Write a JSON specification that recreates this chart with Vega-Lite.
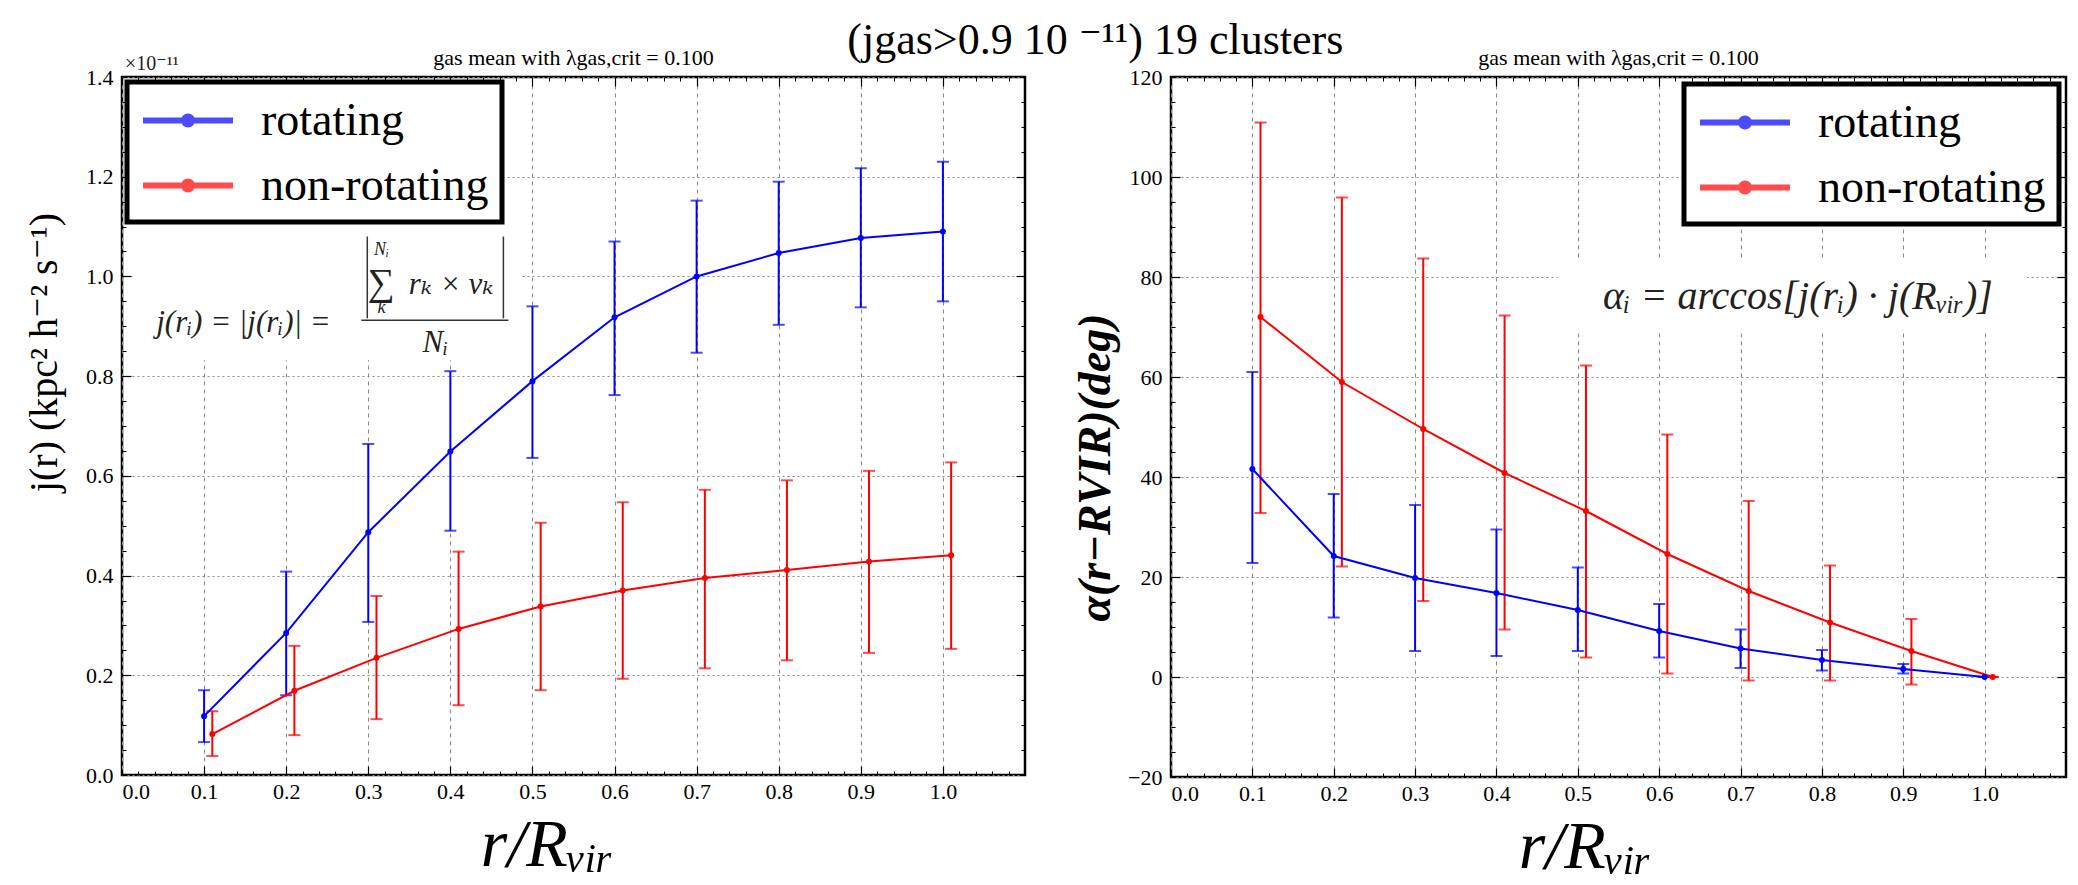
{
  "$schema": "https://vega.github.io/schema/vega-lite/v6.json",
  "background": "white",
  "padding": {"left": 22, "top": 18, "right": 5, "bottom": 5},
  "bounds": "flush",
  "spacing": 146,
  "title": {"text": "(jgas>0.9 10 ⁻¹¹) 19 clusters", "font": "Liberation Serif, DejaVu Serif, serif", "fontSize": 44, "fontWeight": "normal", "anchor": "middle", "offset": -17, "dx": 50, "color": "black"},
  "resolve": {"legend": {"color": "independent"}},
  "config": {
    "font": "Liberation Serif, DejaVu Serif, serif",
    "view": {"stroke": "black", "strokeWidth": 2.5},
    "axis": {"labelFont": "Liberation Serif, DejaVu Serif, serif", "labelFontSize": 22, "labelColor": "black", "titleFont": "Liberation Serif, DejaVu Serif, serif", "titleColor": "black", "titleFontWeight": "normal", "domain": false, "ticks": false, "tickSize": 0, "grid": true, "gridColor": "#8a8a8a", "gridWidth": 1},
    "axisX": {"gridDash": [4, 4], "labelPadding": 6},
    "axisY": {"gridDash": [2, 3], "labelPadding": 9},
    "legend": {"labelFont": "Liberation Serif, DejaVu Serif, serif", "labelFontSize": 46, "labelColor": "black", "labelLimit": 500, "labelOffset": 70, "symbolType": "M-1,0L3,0M0.82,0A0.18,0.18 0 1,0 1.18,0A0.18,0.18 0 1,0 0.82,0", "symbolSize": 2025, "symbolStrokeWidth": 6, "strokeColor": "black", "strokeWidth": 5, "fillColor": "white", "padding": 13, "rowPadding": 16, "cornerRadius": 0}
  },
  "datasets": {
    "jr": [
      {"series": "rotating", "r": 0.1, "mean": 0.118, "lo": 0.066, "hi": 0.17},
      {"series": "rotating", "r": 0.2, "mean": 0.285, "lo": 0.16, "hi": 0.408},
      {"series": "rotating", "r": 0.3, "mean": 0.487, "lo": 0.307, "hi": 0.664},
      {"series": "rotating", "r": 0.4, "mean": 0.649, "lo": 0.49, "hi": 0.81},
      {"series": "rotating", "r": 0.5, "mean": 0.79, "lo": 0.636, "hi": 0.94},
      {"series": "rotating", "r": 0.6, "mean": 0.918, "lo": 0.762, "hi": 1.07},
      {"series": "rotating", "r": 0.7, "mean": 1.0, "lo": 0.847, "hi": 1.152},
      {"series": "rotating", "r": 0.8, "mean": 1.047, "lo": 0.903, "hi": 1.19},
      {"series": "rotating", "r": 0.9, "mean": 1.077, "lo": 0.938, "hi": 1.217},
      {"series": "rotating", "r": 1.0, "mean": 1.09, "lo": 0.95, "hi": 1.23},
      {"series": "non-rotating", "r": 0.11, "mean": 0.082, "lo": 0.038, "hi": 0.128},
      {"series": "non-rotating", "r": 0.21, "mean": 0.169, "lo": 0.08, "hi": 0.259},
      {"series": "non-rotating", "r": 0.31, "mean": 0.235, "lo": 0.112, "hi": 0.359},
      {"series": "non-rotating", "r": 0.41, "mean": 0.293, "lo": 0.14, "hi": 0.448},
      {"series": "non-rotating", "r": 0.51, "mean": 0.338, "lo": 0.17, "hi": 0.506},
      {"series": "non-rotating", "r": 0.61, "mean": 0.37, "lo": 0.193, "hi": 0.547},
      {"series": "non-rotating", "r": 0.71, "mean": 0.395, "lo": 0.214, "hi": 0.572},
      {"series": "non-rotating", "r": 0.81, "mean": 0.411, "lo": 0.23, "hi": 0.591},
      {"series": "non-rotating", "r": 0.91, "mean": 0.428, "lo": 0.245, "hi": 0.61},
      {"series": "non-rotating", "r": 1.01, "mean": 0.441, "lo": 0.253, "hi": 0.627}
    ],
    "alpha": [
      {"series": "rotating", "r": 0.1, "mean": 41.6, "lo": 22.8, "hi": 61},
      {"series": "rotating", "r": 0.2, "mean": 24.2, "lo": 11.9, "hi": 36.6},
      {"series": "rotating", "r": 0.3, "mean": 19.8, "lo": 5.2, "hi": 34.4},
      {"series": "rotating", "r": 0.4, "mean": 16.8, "lo": 4.2, "hi": 29.5},
      {"series": "rotating", "r": 0.5, "mean": 13.4, "lo": 5.2, "hi": 21.9},
      {"series": "rotating", "r": 0.6, "mean": 9.2, "lo": 3.9, "hi": 14.6},
      {"series": "rotating", "r": 0.7, "mean": 5.7, "lo": 1.8, "hi": 9.5},
      {"series": "rotating", "r": 0.8, "mean": 3.4, "lo": 1.3, "hi": 5.4},
      {"series": "rotating", "r": 0.9, "mean": 1.6, "lo": 0.7, "hi": 2.6},
      {"series": "rotating", "r": 1.0, "mean": 0, "lo": 0, "hi": 0},
      {"series": "non-rotating", "r": 0.11, "mean": 72, "lo": 32.8, "hi": 110.9},
      {"series": "non-rotating", "r": 0.21, "mean": 59, "lo": 22.1, "hi": 95.9},
      {"series": "non-rotating", "r": 0.31, "mean": 49.6, "lo": 15.2, "hi": 83.7},
      {"series": "non-rotating", "r": 0.41, "mean": 40.8, "lo": 9.5, "hi": 72.3},
      {"series": "non-rotating", "r": 0.51, "mean": 33.2, "lo": 3.9, "hi": 62.3},
      {"series": "non-rotating", "r": 0.61, "mean": 24.6, "lo": 0.7, "hi": 48.5},
      {"series": "non-rotating", "r": 0.71, "mean": 17.2, "lo": -0.7, "hi": 35.2},
      {"series": "non-rotating", "r": 0.81, "mean": 10.9, "lo": -0.7, "hi": 22.3},
      {"series": "non-rotating", "r": 0.91, "mean": 5.2, "lo": -1.5, "hi": 11.6},
      {"series": "non-rotating", "r": 1.01, "mean": 0, "lo": 0, "hi": 0}
    ]
  },
  "hconcat": [
    {
      "width": 903,
      "height": 698,
      "title": {"text": "gas mean with λgas,crit = 0.100", "font": "Liberation Serif, DejaVu Serif, serif", "fontSize": 22, "fontWeight": "normal", "offset": -16, "color": "black"},
      "resolve": {"axis": {"x": "independent", "y": "independent"}},
      "layer": [
        {
          "layer": [
            {
              "data": {"values": [{"x0": 0.0134, "x1": 0.4878, "y0": 0.832, "y1": 1.106}]},
              "mark": {"type": "rect", "fill": "white"},
              "encoding": {
                "x": {"field": "x0", "type": "quantitative", "scale": {"domain": [0, 1.1], "nice": false, "zero": false}, "title": "r/Rᵥᵢᵣ",
                      "axis": {"values": [0, 0.1, 0.2, 0.3, 0.4, 0.5, 0.6, 0.7, 0.8, 0.9, 1.0], "format": ".1f", "titleFontSize": 68, "titleFontStyle": "italic", "titleX": 425, "titleY": 90, "titleBaseline": "alphabetic", "titleAlign": "center"}},
                "x2": {"field": "x1"},
                "y": {"field": "y0", "type": "quantitative", "scale": {"domain": [0, 1.4], "nice": false, "zero": false}, "title": "j(r)   (kpc²  h⁻²  s⁻¹)",
                      "axis": {"values": [0, 0.2, 0.4, 0.6, 0.8, 1.0, 1.2, 1.4], "format": ".1f", "titleFontSize": 40, "titleX": -78, "titleY": 275, "titleBaseline": "middle", "titleAlign": "center", "titleAngle": -90}},
                "y2": {"field": "y1"}
              }
            },
            {
              "data": {"name": "jr"},
              "mark": {"type": "errorbar", "ticks": {"size": 12}, "thickness": 2},
              "encoding": {
                "x": {"field": "r", "type": "quantitative", "title": "r/Rᵥᵢᵣ"},
                "y": {"field": "lo", "type": "quantitative", "title": "j(r)   (kpc²  h⁻²  s⁻¹)"},
                "y2": {"field": "hi"},
                "color": {"field": "series", "type": "nominal", "scale": {"domain": ["rotating", "non-rotating"], "range": ["#0000ff", "#ff0000"]}, "title": null}
              }
            },
            {
              "data": {"name": "jr"},
              "mark": {"type": "line"},
              "encoding": {
                "x": {"field": "r", "type": "quantitative", "title": "r/Rᵥᵢᵣ"},
                "y": {"field": "mean", "type": "quantitative", "title": "j(r)   (kpc²  h⁻²  s⁻¹)"},
                "color": {"field": "series", "type": "nominal", "scale": {"domain": ["rotating", "non-rotating"], "range": ["#0000ff", "#ff0000"]}, "title": null, "legend": {"orient": "top-left", "offset": 5}}
              }
            },
            {
              "data": {"name": "jr"},
              "mark": {"type": "point", "filled": true, "size": 36, "opacity": 1},
              "encoding": {
                "x": {"field": "r", "type": "quantitative", "title": "r/Rᵥᵢᵣ"},
                "y": {"field": "mean", "type": "quantitative", "title": "j(r)   (kpc²  h⁻²  s⁻¹)"},
                "color": {"field": "series", "type": "nominal", "scale": {"domain": ["rotating", "non-rotating"], "range": ["#0000ff", "#ff0000"]}, "title": null}
              }
            },
            {
              "data": {"values": [
                {"x": 0.2988, "x2": 0.2988, "y": 0.916, "y2": 1.08},
                {"x": 0.4646, "x2": 0.4646, "y": 0.916, "y2": 1.08},
                {"x": 0.2915, "x2": 0.4707, "y": 0.912, "y2": 0.912}
              ]},
              "mark": {"type": "rule", "color": "#333333", "strokeWidth": 1.5},
              "encoding": {
                "x": {"field": "x", "type": "quantitative", "title": "r/Rᵥᵢᵣ"},
                "x2": {"field": "x2"},
                "y": {"field": "y", "type": "quantitative", "title": "j(r)   (kpc²  h⁻²  s⁻¹)"},
                "y2": {"field": "y2"}
              }
            },
            {
              "data": {"values": [
                {"x": 0.148, "y": 0.906, "t": "j(rᵢ) = |j(rᵢ)| ="},
                {"x": 0.401, "y": 0.982, "t": "rₖ × vₖ"},
                {"x": 0.3817, "y": 0.866, "t": "Nᵢ"}
              ]},
              "mark": {"type": "text", "font": "Liberation Serif, DejaVu Serif, serif", "fontStyle": "italic", "fontSize": 31, "color": "#222222", "align": "center", "baseline": "middle"},
              "encoding": {
                "x": {"field": "x", "type": "quantitative", "title": "r/Rᵥᵢᵣ"},
                "y": {"field": "y", "type": "quantitative", "title": "j(r)   (kpc²  h⁻²  s⁻¹)"},
                "text": {"field": "t"}
              }
            },
            {
              "data": {"values": [{"x": 0.316, "y": 0.985, "t": "∑"}]},
              "mark": {"type": "text", "font": "Liberation Serif, DejaVu Serif, serif", "fontSize": 38, "color": "#222222", "align": "center", "baseline": "middle"},
              "encoding": {
                "x": {"field": "x", "type": "quantitative", "title": "r/Rᵥᵢᵣ"},
                "y": {"field": "y", "type": "quantitative", "title": "j(r)   (kpc²  h⁻²  s⁻¹)"},
                "text": {"field": "t"}
              }
            },
            {
              "data": {"values": [{"x": 0.316, "y": 1.054, "t": "Nᵢ"}, {"x": 0.316, "y": 0.936, "t": "k"}]},
              "mark": {"type": "text", "font": "Liberation Serif, DejaVu Serif, serif", "fontStyle": "italic", "fontSize": 18, "color": "#222222", "align": "center", "baseline": "middle"},
              "encoding": {
                "x": {"field": "x", "type": "quantitative", "title": "r/Rᵥᵢᵣ"},
                "y": {"field": "y", "type": "quantitative", "title": "j(r)   (kpc²  h⁻²  s⁻¹)"},
                "text": {"field": "t"}
              }
            },
            {
              "data": {"values": [{"x": 0, "y": 1.4, "t": "×10⁻¹¹"}]},
              "mark": {"type": "text", "font": "Liberation Serif, DejaVu Serif, serif", "fontSize": 20, "color": "#222222", "align": "left", "baseline": "bottom", "dx": 3, "dy": -3},
              "encoding": {
                "x": {"field": "x", "type": "quantitative", "title": "r/Rᵥᵢᵣ"},
                "y": {"field": "y", "type": "quantitative", "title": "j(r)   (kpc²  h⁻²  s⁻¹)"},
                "text": {"field": "t"}
              }
            }
          ]
        },
        {
          "data": {"values": [{"a": 0.5, "b": 0.5}]},
          "mark": {"type": "point", "opacity": 0},
          "encoding": {
            "x": {"field": "a", "type": "quantitative", "axis": {"orient": "bottom", "title": null, "labels": false, "grid": false, "domain": false, "ticks": true, "tickSize": -4, "tickColor": "black", "tickWidth": 1, "values": [0,0.02,0.04,0.06,0.08,0.1,0.12,0.14,0.16,0.18,0.2,0.22,0.24,0.26,0.28,0.3,0.32,0.34,0.36,0.38,0.4,0.42,0.44,0.46,0.48,0.5,0.52,0.54,0.56,0.58,0.6,0.62,0.64,0.66,0.68,0.7,0.72,0.74,0.76,0.78,0.8,0.82,0.84,0.86,0.88,0.9,0.92,0.94,0.96,0.98,1.0,1.02,1.04,1.06,1.08]}},
            "y": {"field": "b", "type": "quantitative", "axis": {"orient": "left", "title": null, "labels": false, "grid": false, "domain": false, "ticks": true, "tickSize": -4, "tickColor": "black", "tickWidth": 1, "values": [0,0.05,0.1,0.15,0.2,0.25,0.3,0.35,0.4,0.45,0.5,0.55,0.6,0.65,0.7,0.75,0.8,0.85,0.9,0.95,1.0,1.05,1.1,1.15,1.2,1.25,1.3,1.35,1.4]}}
          }
        },
        {
          "data": {"values": [{"a": 0.5, "b": 0.5}]},
          "mark": {"type": "point", "opacity": 0},
          "encoding": {
            "x": {"field": "a", "type": "quantitative", "axis": {"orient": "top", "title": null, "labels": false, "grid": false, "domain": false, "ticks": true, "tickSize": -4, "tickColor": "black", "tickWidth": 1, "values": [0,0.02,0.04,0.06,0.08,0.1,0.12,0.14,0.16,0.18,0.2,0.22,0.24,0.26,0.28,0.3,0.32,0.34,0.36,0.38,0.4,0.42,0.44,0.46,0.48,0.5,0.52,0.54,0.56,0.58,0.6,0.62,0.64,0.66,0.68,0.7,0.72,0.74,0.76,0.78,0.8,0.82,0.84,0.86,0.88,0.9,0.92,0.94,0.96,0.98,1.0,1.02,1.04,1.06,1.08]}},
            "y": {"field": "b", "type": "quantitative", "axis": {"orient": "right", "title": null, "labels": false, "grid": false, "domain": false, "ticks": true, "tickSize": -4, "tickColor": "black", "tickWidth": 1, "values": [0,0.05,0.1,0.15,0.2,0.25,0.3,0.35,0.4,0.45,0.5,0.55,0.6,0.65,0.7,0.75,0.8,0.85,0.9,0.95,1.0,1.05,1.1,1.15,1.2,1.25,1.3,1.35,1.4]}}
          }
        },
        {
          "data": {"values": [{"a": 0.5, "b": 0.5}]},
          "mark": {"type": "point", "opacity": 0},
          "encoding": {
            "x": {"field": "a", "type": "quantitative", "axis": {"orient": "bottom", "title": null, "labels": false, "grid": false, "domain": false, "ticks": true, "tickSize": -9, "tickColor": "black", "tickWidth": 1.2, "values": [0.1, 0.2, 0.3, 0.4, 0.5, 0.6, 0.7, 0.8, 0.9, 1.0]}},
            "y": {"field": "b", "type": "quantitative", "axis": {"orient": "left", "title": null, "labels": false, "grid": false, "domain": false, "ticks": true, "tickSize": -9, "tickColor": "black", "tickWidth": 1.2, "values": [0.2, 0.4, 0.6, 0.8, 1.0, 1.2]}}
          }
        },
        {
          "data": {"values": [{"a": 0.5, "b": 0.5}]},
          "mark": {"type": "point", "opacity": 0},
          "encoding": {
            "x": {"field": "a", "type": "quantitative", "axis": {"orient": "top", "title": null, "labels": false, "grid": false, "domain": false, "ticks": true, "tickSize": -9, "tickColor": "black", "tickWidth": 1.2, "values": [0.1, 0.2, 0.3, 0.4, 0.5, 0.6, 0.7, 0.8, 0.9, 1.0]}},
            "y": {"field": "b", "type": "quantitative", "axis": {"orient": "right", "title": null, "labels": false, "grid": false, "domain": false, "ticks": true, "tickSize": -9, "tickColor": "black", "tickWidth": 1.2, "values": [0.2, 0.4, 0.6, 0.8, 1.0, 1.2]}}
          }
        }
      ]
    },
    {
      "width": 895,
      "height": 700,
      "title": {"text": "gas mean with λgas,crit = 0.100", "font": "Liberation Serif, DejaVu Serif, serif", "fontSize": 22, "fontWeight": "normal", "offset": -4, "color": "black"},
      "resolve": {"axis": {"x": "independent", "y": "independent"}},
      "layer": [
        {
          "layer": [
            {
              "data": {"values": [{"x0": 0.475, "x1": 1.052, "y0": 69.5, "y1": 83.6}]},
              "mark": {"type": "rect", "fill": "white"},
              "encoding": {
                "x": {"field": "x0", "type": "quantitative", "scale": {"domain": [0, 1.1], "nice": false, "zero": false}, "title": "r/Rᵥᵢᵣ",
                      "axis": {"values": [0, 0.1, 0.2, 0.3, 0.4, 0.5, 0.6, 0.7, 0.8, 0.9, 1.0], "format": ".1f", "titleFontSize": 68, "titleFontStyle": "italic", "titleX": 414, "titleY": 90, "titleBaseline": "alphabetic", "titleAlign": "center"}},
                "x2": {"field": "x1"},
                "y": {"field": "y0", "type": "quantitative", "scale": {"domain": [-20, 120], "nice": false, "zero": false}, "title": "α(r−RVIR)(deg)",
                      "axis": {"values": [-20, 0, 20, 40, 60, 80, 100, 120], "titleFontSize": 46, "titleFontStyle": "italic", "titleFontWeight": "bold", "titleX": -76, "titleY": 390, "titleBaseline": "middle", "titleAlign": "center", "titleAngle": -90}},
                "y2": {"field": "y1"}
              }
            },
            {
              "data": {"name": "alpha"},
              "mark": {"type": "errorbar", "ticks": {"size": 12}, "thickness": 2},
              "encoding": {
                "x": {"field": "r", "type": "quantitative", "title": "r/Rᵥᵢᵣ"},
                "y": {"field": "lo", "type": "quantitative", "title": "α(r−RVIR)(deg)"},
                "y2": {"field": "hi"},
                "color": {"field": "series", "type": "nominal", "scale": {"domain": ["rotating", "non-rotating"], "range": ["#0000ff", "#ff0000"]}, "title": null}
              }
            },
            {
              "data": {"name": "alpha"},
              "mark": {"type": "line"},
              "encoding": {
                "x": {"field": "r", "type": "quantitative", "title": "r/Rᵥᵢᵣ"},
                "y": {"field": "mean", "type": "quantitative", "title": "α(r−RVIR)(deg)"},
                "color": {"field": "series", "type": "nominal", "scale": {"domain": ["rotating", "non-rotating"], "range": ["#0000ff", "#ff0000"]}, "title": null, "legend": {"orient": "top-right", "offset": 7}}
              }
            },
            {
              "data": {"name": "alpha"},
              "mark": {"type": "point", "filled": true, "size": 36, "opacity": 1},
              "encoding": {
                "x": {"field": "r", "type": "quantitative", "title": "r/Rᵥᵢᵣ"},
                "y": {"field": "mean", "type": "quantitative", "title": "α(r−RVIR)(deg)"},
                "color": {"field": "series", "type": "nominal", "scale": {"domain": ["rotating", "non-rotating"], "range": ["#0000ff", "#ff0000"]}, "title": null}
              }
            },
            {
              "data": {"values": [{"x": 0.7706, "y": 76, "t": "αᵢ = arccos[j(rᵢ) · j(Rᵥᵢᵣ)]"}]},
              "mark": {"type": "text", "font": "Liberation Serif, DejaVu Serif, serif", "fontStyle": "italic", "fontSize": 40, "color": "#222222", "align": "center", "baseline": "middle"},
              "encoding": {
                "x": {"field": "x", "type": "quantitative", "title": "r/Rᵥᵢᵣ"},
                "y": {"field": "y", "type": "quantitative", "title": "α(r−RVIR)(deg)"},
                "text": {"field": "t"}
              }
            }
          ]
        },
        {
          "data": {"values": [{"a": 0.5, "b": 50}]},
          "mark": {"type": "point", "opacity": 0},
          "encoding": {
            "x": {"field": "a", "type": "quantitative", "axis": {"orient": "bottom", "title": null, "labels": false, "grid": false, "domain": false, "ticks": true, "tickSize": -4, "tickColor": "black", "tickWidth": 1, "values": [0,0.02,0.04,0.06,0.08,0.1,0.12,0.14,0.16,0.18,0.2,0.22,0.24,0.26,0.28,0.3,0.32,0.34,0.36,0.38,0.4,0.42,0.44,0.46,0.48,0.5,0.52,0.54,0.56,0.58,0.6,0.62,0.64,0.66,0.68,0.7,0.72,0.74,0.76,0.78,0.8,0.82,0.84,0.86,0.88,0.9,0.92,0.94,0.96,0.98,1.0,1.02,1.04,1.06,1.08]}},
            "y": {"field": "b", "type": "quantitative", "axis": {"orient": "left", "title": null, "labels": false, "grid": false, "domain": false, "ticks": true, "tickSize": -4, "tickColor": "black", "tickWidth": 1, "values": [-20,-15,-10,-5,0,5,10,15,20,25,30,35,40,45,50,55,60,65,70,75,80,85,90,95,100,105,110,115,120]}}
          }
        },
        {
          "data": {"values": [{"a": 0.5, "b": 50}]},
          "mark": {"type": "point", "opacity": 0},
          "encoding": {
            "x": {"field": "a", "type": "quantitative", "axis": {"orient": "top", "title": null, "labels": false, "grid": false, "domain": false, "ticks": true, "tickSize": -4, "tickColor": "black", "tickWidth": 1, "values": [0,0.02,0.04,0.06,0.08,0.1,0.12,0.14,0.16,0.18,0.2,0.22,0.24,0.26,0.28,0.3,0.32,0.34,0.36,0.38,0.4,0.42,0.44,0.46,0.48,0.5,0.52,0.54,0.56,0.58,0.6,0.62,0.64,0.66,0.68,0.7,0.72,0.74,0.76,0.78,0.8,0.82,0.84,0.86,0.88,0.9,0.92,0.94,0.96,0.98,1.0,1.02,1.04,1.06,1.08]}},
            "y": {"field": "b", "type": "quantitative", "axis": {"orient": "right", "title": null, "labels": false, "grid": false, "domain": false, "ticks": true, "tickSize": -4, "tickColor": "black", "tickWidth": 1, "values": [-20,-15,-10,-5,0,5,10,15,20,25,30,35,40,45,50,55,60,65,70,75,80,85,90,95,100,105,110,115,120]}}
          }
        },
        {
          "data": {"values": [{"a": 0.5, "b": 50}]},
          "mark": {"type": "point", "opacity": 0},
          "encoding": {
            "x": {"field": "a", "type": "quantitative", "axis": {"orient": "bottom", "title": null, "labels": false, "grid": false, "domain": false, "ticks": true, "tickSize": -9, "tickColor": "black", "tickWidth": 1.2, "values": [0.1, 0.2, 0.3, 0.4, 0.5, 0.6, 0.7, 0.8, 0.9, 1.0]}},
            "y": {"field": "b", "type": "quantitative", "axis": {"orient": "left", "title": null, "labels": false, "grid": false, "domain": false, "ticks": true, "tickSize": -9, "tickColor": "black", "tickWidth": 1.2, "values": [0, 20, 40, 60, 80, 100]}}
          }
        },
        {
          "data": {"values": [{"a": 0.5, "b": 50}]},
          "mark": {"type": "point", "opacity": 0},
          "encoding": {
            "x": {"field": "a", "type": "quantitative", "axis": {"orient": "top", "title": null, "labels": false, "grid": false, "domain": false, "ticks": true, "tickSize": -9, "tickColor": "black", "tickWidth": 1.2, "values": [0.1, 0.2, 0.3, 0.4, 0.5, 0.6, 0.7, 0.8, 0.9, 1.0]}},
            "y": {"field": "b", "type": "quantitative", "axis": {"orient": "right", "title": null, "labels": false, "grid": false, "domain": false, "ticks": true, "tickSize": -9, "tickColor": "black", "tickWidth": 1.2, "values": [0, 20, 40, 60, 80, 100]}}
          }
        }
      ]
    }
  ]
}
